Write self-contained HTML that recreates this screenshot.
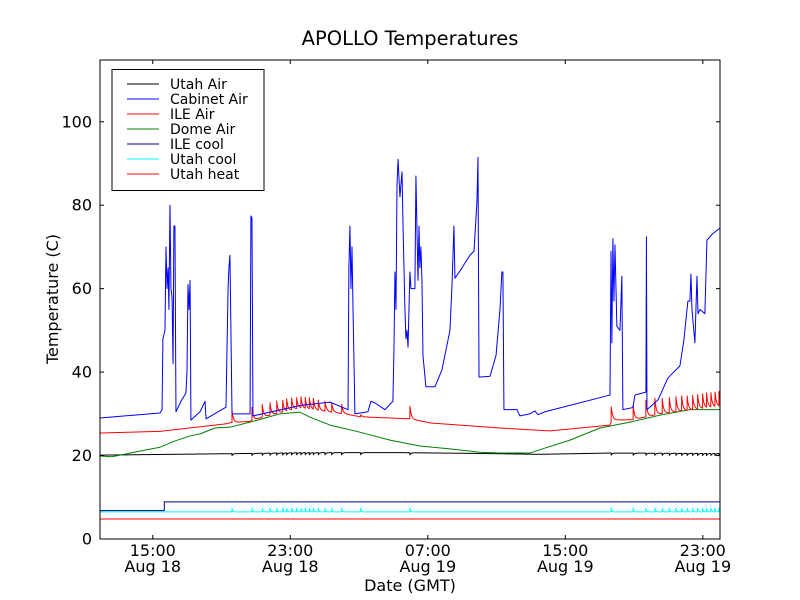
<!DOCTYPE html>
<html><head><meta charset="utf-8"><style>
html,body{margin:0;padding:0;background:#fff;}
svg{display:block;font-family:"DejaVu Sans","Liberation Sans",sans-serif;}
</style></head><body>
<svg id="chart" width="800" height="600" viewBox="0 0 800 600">
<defs><clipPath id="clip"><rect x="100" y="60" width="620" height="479"/></clipPath></defs>
<rect x="0" y="0" width="800" height="600" fill="#fff"/>
<text x="410" y="45" text-anchor="middle" font-size="19.5">APOLLO Temperatures</text>
<text x="410" y="591" text-anchor="middle" font-size="16">Date (GMT)</text>
<text transform="translate(58,299) rotate(-90)" text-anchor="middle" font-size="16">Temperature (C)</text>
<g id="series" clip-path="url(#clip)"></g>
<g id="axes"></g>
<g id="legend"></g>
</svg>
<script>
const xTickHours = [15, 23, 31, 39, 47];
const xTickTimes = ["15:00", "23:00", "07:00", "15:00", "23:00"];
const xTickDates = ["Aug 18", "Aug 18", "Aug 19", "Aug 19", "Aug 19"];
const yTicks = [0, 20, 40, 60, 80, 100];

const cabinetT = [11.93,15.42,15.54,15.59,15.71,15.77,15.83,15.89,15.94,16.00,16.06,16.12,16.18,16.23,16.29,16.35,16.64,16.93,16.99,17.05,17.11,17.17,17.22,17.75,18.04,18.10,19.26,19.38,19.43,19.49,19.61,20.66,20.71,20.77,20.83,23.56,25.31,26.36,26.41,26.47,26.53,26.59,26.65,26.76,27.52,27.69,27.93,28.51,28.97,29.03,29.09,29.15,29.21,29.27,29.38,29.50,29.56,29.67,29.73,29.79,29.85,29.96,30.02,30.25,30.31,30.43,30.49,30.54,30.60,30.66,30.72,30.89,31.42,31.82,32.29,32.41,32.52,32.58,32.99,33.45,33.69,33.86,33.92,33.98,34.62,34.97,35.20,35.31,35.37,35.43,36.19,36.36,36.94,37.23,37.41,37.82,41.60,41.66,41.71,41.77,41.83,41.89,42.00,42.18,42.29,42.35,42.93,43.05,43.69,43.72,43.75,44.39,44.97,45.26,45.67,45.90,46.13,46.25,46.31,46.37,46.54,46.66,46.72,46.83,47.12,47.24,47.53,48.00];
const cabinetV = [29,30.2,31,48,50,70,60,65,55,80,60,58,42,75,75,30.5,33,35,40,61,55,62,28.5,30.5,33,28.8,31.6,60,65,68,30,30,77.4,77,29.5,32,32.8,31,65,75,60,70,55,30,30.5,33,32.6,31,33,45,64,55,85,91,82,88,75,55,48,50,46,64,60,60,87,62,75,65,70,62,44,36.5,36.5,40.5,50,61,75,62.5,65,68,69,81,91.5,38.8,39,44,55,64,64,31,31,29.5,30,30.7,29.8,30.5,34.5,69,47,72,57,70.5,51,50,63,31,31.5,34.5,35.2,72.4,31,33.3,38.6,39.8,41.5,47.7,57,57,63.5,55,47,63,54,55,54,71.6,73,74.5];

const ileAirT = [11.93,15.42,19.26,19.55,20.66,21.35,23.56,26.18,27.05,29.96,31.18,35.20,38.11,41.60,41.71,42.93,44.51,48.00];
const ileAirV = [25.4,25.8,27.6,27.9,28.2,29.2,31.4,30.0,29.3,28.8,27.8,26.6,25.9,27.3,28.5,28.6,30.0,31.8];

const spikeT = [19.61,20.77,21.37,21.82,22.21,22.56,22.79,23.08,23.37,23.62,23.87,24.11,24.34,24.63,25.02,25.41,25.99,27.10,29.96,41.67,42.95,43.69,44.21,44.64,45.05,45.44,45.77,46.09,46.41,46.70,46.99,47.22,47.47,47.71,47.94];
const ileSpikeAmp = [3,3.2,3,3,3,2.8,2.8,2.8,2.6,2.6,2.6,2.6,2.6,2.4,2.4,2.2,2.2,0.5,3,3.6,3.4,4,4,3.6,3.6,3.6,3.6,3.4,3.4,3.4,3.4,3.4,3.4,3.4,3.4];

const domeT = [11.93,12.63,13.68,15.42,16.29,17.17,17.75,18.62,19.49,20.66,21.53,22.40,22.98,23.56,24.15,25.31,27.05,28.80,30.54,32.29,34.03,35.20,36.94,37.82,39.27,41.02,42.76,44.51,46.25,48.00];
const domeV = [19.9,19.7,20.6,22,23.5,24.7,25.2,26.6,26.8,28,29,30,30.2,30.4,29.2,27.3,25.6,23.7,22.3,21.6,20.8,20.6,20.6,21.8,23.7,26.6,28,29.7,31,31];

const utahAirT = [11.93,20.66,23.56,29.38,34.03,37.53,41.60,48.00];
const utahAirV = [20.1,20.5,20.7,20.7,20.5,20.3,20.6,20.5];
const utahAirDip = -0.5;

const ileCoolT = [11.93,15.67,15.67,48.00];
const ileCoolV = [6.8,6.8,8.9,8.9];

const utahCoolBase = 6.5;
const utahCoolSpike = 0.9;
const utahHeatT = [11.93,48.00];
const utahHeatV = [4.8,4.8];

const X0=100, X1=720, Y0=539, Y1=60, tMin=11.93, tMax=48.0, vMin=0, vMax=114.8;
const sx = t => X0 + (t - tMin) / (tMax - tMin) * (X1 - X0);
const sy = v => Y0 - (v - vMin) / (vMax - vMin) * (Y0 - Y1);
const NS = "http://www.w3.org/2000/svg";
function mk(tag, attrs, parent){ const e=document.createElementNS(NS,tag); for(const k in attrs) e.setAttribute(k,attrs[k]); parent.appendChild(e); return e; }
function interp(T,V,t){ if(t<=T[0]) return V[0]; for(let i=1;i<T.length;i++){ if(t<=T[i]){ const f=(t-T[i-1])/((T[i]-T[i-1])||1); return V[i-1]+f*(V[i]-V[i-1]); } } return V[V.length-1]; }
function spiky(T,V,amps,constAmp,decay){
  const pts=[]; const times=[];
  for(let t=tMin;t<=tMax;t+=0.02) times.push(t);
  spikeT.forEach(s=>{times.push(s-0.005,s,s+0.01);});
  times.sort((a,b)=>a-b);
  times.forEach(t=>{
    let v=interp(T,V,t);
    spikeT.forEach((s,i)=>{ const a=amps?amps[i]:constAmp; if(t>=s) v+=a*Math.exp(-(t-s)/decay); });
    pts.push([t,v]);
  });
  return pts;
}
function pathFrom(pts){ return pts.map((p,i)=>(i?"L":"M")+sx(p[0]).toFixed(2)+" "+sy(p[1]).toFixed(2)).join(" "); }
const zipTV=(T,V)=>T.map((t,i)=>[t,V[i]]);

const series=document.getElementById("series");
function addLine(pts,color,name){
  const p=mk("path",{d:pathFrom(pts),fill:"none",stroke:color,"stroke-width":1,"stroke-linejoin":"round"},series);
  
  
}
addLine(zipTV(utahHeatT,utahHeatV),"#ff0000","utah-heat-line");
addLine(spiky([tMin,tMax],[utahCoolBase,utahCoolBase],null,utahCoolSpike,0.04),"#00ffff","utah-cool-line");
addLine(zipTV(ileCoolT,ileCoolV),"#000080","ile-cool-line");
addLine(spiky(utahAirT,utahAirV,null,utahAirDip,0.06),"#000000","utah-air-line");
addLine(zipTV(domeT,domeV),"#008000","dome-air-line");
addLine(spiky(ileAirT,ileAirV,ileSpikeAmp,0,0.08),"#ff0000","ile-air-line");
addLine(zipTV(cabinetT,cabinetV),"#0000ff","cabinet-air-line");

const axes=document.getElementById("axes");
const frame=mk("rect",{x:X0,y:Y1,width:X1-X0,height:Y0-Y1,fill:"none",stroke:"#000","stroke-width":1},axes);


yTicks.forEach(v=>{
  const y=sy(v);
  const t1=mk("line",{x1:X0,x2:X0+4,y1:y,y2:y,stroke:"#000"},axes);
  
  
  const t2=mk("line",{x1:X1,x2:X1-4,y1:y,y2:y,stroke:"#000"},axes);
  
  
  const lb=mk("text",{x:X0-8,y:y+5.5,"text-anchor":"end","font-size":16},axes);
  lb.textContent=v;
  
  
});
xTickHours.forEach((h,i)=>{
  const x=sx(h);
  const t1=mk("line",{x1:x,x2:x,y1:Y0,y2:Y0-4,stroke:"#000"},axes);
  
  
  const t2=mk("line",{x1:x,x2:x,y1:Y1,y2:Y1+4,stroke:"#000"},axes);
  
  
  const a=mk("text",{x:x,y:556,"text-anchor":"middle","font-size":16},axes);
  a.textContent=xTickTimes[i];
  
  
  const b=mk("text",{x:x,y:572,"text-anchor":"middle","font-size":16},axes);
  b.textContent=xTickDates[i];
  
  
});

const legendNames=["Utah Air","Cabinet Air","ILE Air","Dome Air","ILE cool","Utah cool","Utah heat"];
const legendColors=["#000000","#0000ff","#ff0000","#008000","#000080","#00ffff","#ff0000"];
const lg=document.getElementById("legend");
mk("rect",{x:112,y:69.5,width:152,height:121,fill:"#fff",stroke:"#000","stroke-width":1},lg);
legendNames.forEach((n,i)=>{
  const y=84+i*15;
  const g=mk("g",{},lg);
  
  
  mk("line",{x1:127,x2:159,y1:y,y2:y,stroke:legendColors[i],"stroke-width":1},g);
  const t=mk("text",{x:170,y:y+5,"font-size":14},g);
  t.textContent=n;
});
</script>
</body></html>
